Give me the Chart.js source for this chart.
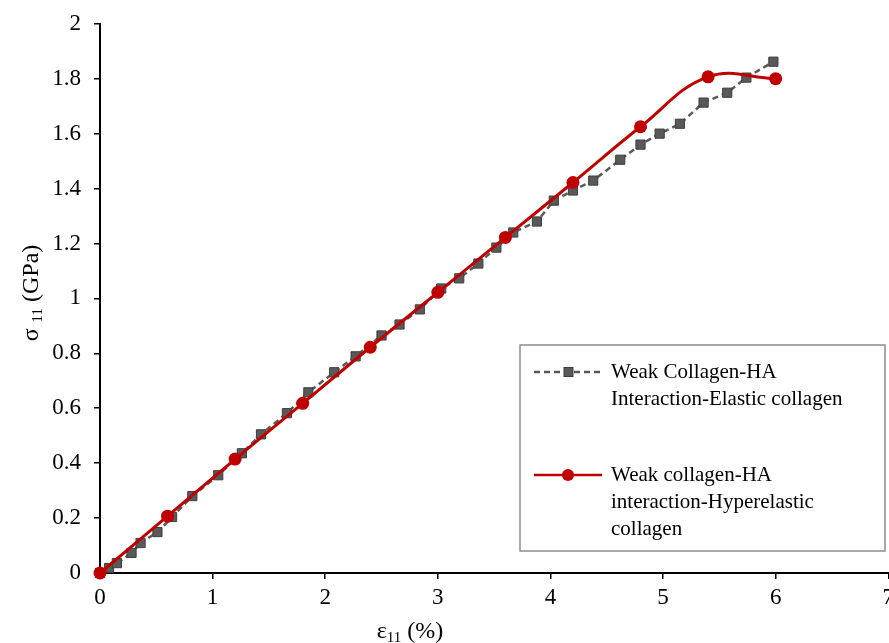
<!DOCTYPE html>
<html><head><meta charset="utf-8">
<script src="https://cdn.jsdelivr.net/npm/chart.js@4"></script>
<style>html,body{margin:0;padding:0;overflow:hidden;background:#fff}
#wrap{width:899px;height:646px;position:relative;margin-top:-3px}</style>
</head><body><div id="wrap"><canvas id="c"></canvas></div>
<script>
// ---- data ----
const elasticStrain = [0, 0.08, 0.15, 0.28, 0.36, 0.51, 0.64, 0.82, 1.05, 1.26, 1.43, 1.66, 1.85, 2.08, 2.27, 2.50, 2.66, 2.84, 3.03, 3.19, 3.36, 3.52, 3.67, 3.88, 4.03, 4.20, 4.38, 4.62, 4.80, 4.97, 5.15, 5.36, 5.57, 5.74, 5.98];
const elasticStress = [0, 0.018, 0.036, 0.073, 0.109, 0.149, 0.204, 0.28, 0.356, 0.436, 0.505, 0.582, 0.658, 0.731, 0.789, 0.865, 0.905, 0.96, 1.036, 1.073, 1.127, 1.185, 1.24, 1.28, 1.356, 1.393, 1.429, 1.505, 1.56, 1.60, 1.636, 1.713, 1.749, 1.804, 1.862];
const hyperStrain = [0, 0.6, 1.2, 1.8, 2.4, 3.0, 3.6, 4.2, 4.8, 5.4, 6.0];
const hyperStress = [0, 0.207, 0.415, 0.618, 0.822, 1.022, 1.222, 1.422, 1.625, 1.807, 1.80];
const xTickValues = [0, 1, 2, 3, 4, 5, 6, 7];
const yTickValues = [0, 0.2, 0.4, 0.6, 0.8, 1, 1.2, 1.4, 1.6, 1.8, 2];
const seriesNames = [
  ["Weak Collagen-HA", "Interaction-Elastic collagen"],
  ["Weak collagen-HA", "interaction-Hyperelastic", "collagen"]
];
const xTitle = {main: "ε", sub: "11", rest: " (%)"};
const yTitle = {main: "σ ", sub: "11", rest: " (GPa)"};

const FONT = "'Liberation Serif', 'Times New Roman', serif";
const GRAY = '#595959', RED = '#C00000';

const toPts = (xs, ys) => xs.map((x, i) => ({x, y: ys[i]}));

function drawTitle(ctx, t, size) {
  const sub = Math.round(size * 0.62);
  ctx.font = size + 'px ' + FONT;
  const w1 = ctx.measureText(t.main).width;
  ctx.font = sub + 'px ' + FONT;
  const w2 = ctx.measureText(t.sub).width;
  ctx.font = size + 'px ' + FONT;
  const w3 = ctx.measureText(t.rest).width;
  let x = -(w1 + w2 + w3) / 2;
  ctx.textBaseline = 'alphabetic';
  ctx.textAlign = 'left';
  ctx.fillText(t.main, x, 0); x += w1;
  ctx.font = sub + 'px ' + FONT;
  ctx.fillText(t.sub, x, 4); x += w2;
  ctx.font = size + 'px ' + FONT;
  ctx.fillText(t.rest, x, 0);
}

const extras = {
  id: 'extras',
  afterDraw(chart) {
    const ctx = chart.ctx;
    ctx.save();
    ctx.translate(0, 3); // compensate the -3px page offset of the canvas
    ctx.fillStyle = '#000';
    // axis titles
    ctx.save(); ctx.translate(410, 638); drawTitle(ctx, xTitle, 24); ctx.restore();
    ctx.save(); ctx.translate(38, 293); ctx.rotate(-Math.PI / 2); drawTitle(ctx, yTitle, 24); ctx.restore();
    // legend
    const L = 520, T = 345, R = 885, B = 551;
    ctx.fillStyle = '#fff';
    ctx.fillRect(L, T, R - L, B - T);
    ctx.strokeStyle = '#8c8c8c'; ctx.lineWidth = 1.5;
    ctx.strokeRect(L, T, R - L, B - T);
    const items = [
      {y: 372, color: GRAY, dash: [6, 4], marker: 'rect', lines: seriesNames[0]},
      {y: 475, color: RED, dash: [], marker: 'circle', lines: seriesNames[1]}
    ];
    items.forEach(it => {
      ctx.strokeStyle = it.color; ctx.lineWidth = 2.5; ctx.setLineDash(it.dash);
      ctx.beginPath(); ctx.moveTo(534, it.y); ctx.lineTo(602, it.y); ctx.stroke();
      ctx.setLineDash([]);
      ctx.fillStyle = it.color;
      if (it.marker === 'rect') {
        ctx.fillRect(564, it.y - 4.5, 9, 9);
        ctx.strokeStyle = '#3f3f3f'; ctx.lineWidth = 1; ctx.strokeRect(564, it.y - 4.5, 9, 9);
      } else {
        ctx.beginPath(); ctx.arc(568, it.y, 6, 0, Math.PI * 2); ctx.fill();
      }
      ctx.fillStyle = '#000';
      ctx.font = '21px ' + FONT; ctx.textAlign = 'left'; ctx.textBaseline = 'middle';
      it.lines.forEach((s, i) => ctx.fillText(s, 611, it.y + i * 27));
    });
    ctx.restore();
  }
};

new Chart(document.getElementById('c'), {
  type: 'scatter',
  data: {
    datasets: [
      {
        label: seriesNames[1].join(' '),
        data: toPts(hyperStrain, hyperStress),
        showLine: true, borderColor: RED, backgroundColor: RED, borderWidth: 3,
        pointStyle: 'circle', pointRadius: 6.5, pointBorderWidth: 0, pointHoverRadius: 6.5,
        tension: 0.4, order: 1, clip: false
      },
      {
        label: seriesNames[0].join(' '),
        data: toPts(elasticStrain, elasticStress),
        showLine: true, borderColor: GRAY, backgroundColor: GRAY, borderWidth: 2.5,
        borderDash: [6, 4],
        pointStyle: 'rect', pointRadius: 6.5, pointBorderColor: '#3f3f3f', pointBorderWidth: 1,
        pointHoverRadius: 6.5, tension: 0, order: 2, clip: false
      }
    ]
  },
  options: {
    responsive: true, maintainAspectRatio: false, animation: false,
    layout: {padding: {left: 0, top: 20, right: 2, bottom: 0}},
    plugins: {legend: {display: false}, tooltip: {enabled: false}},
    scales: {
      x: {
        type: 'linear', min: 0, max: 7,
        afterBuildTicks: s => { s.ticks = xTickValues.map(v => ({value: v})); },
        afterFit: s => { s.height = 70; },
        grid: {drawOnChartArea: false, drawTicks: true, tickLength: 6, color: '#000', lineWidth: 1.5},
        border: {color: '#000', width: 2},
        ticks: {color: '#000', font: {family: FONT, size: 23}, padding: 5, maxRotation: 0,
                callback: v => String(v)}
      },
      y: {
        type: 'linear', min: 0, max: 2,
        afterBuildTicks: s => { s.ticks = yTickValues.map(v => ({value: v})); },
        afterFit: s => { s.width = 100; },
        grid: {drawOnChartArea: false, drawTicks: true, tickLength: 6, color: '#000', lineWidth: 1.5},
        border: {color: '#000', width: 2},
        ticks: {color: '#000', font: {family: FONT, size: 23}, padding: 13,
                callback: v => String(+Number(v).toFixed(1))}
      }
    }
  },
  plugins: [extras]
});
</script></body></html>
